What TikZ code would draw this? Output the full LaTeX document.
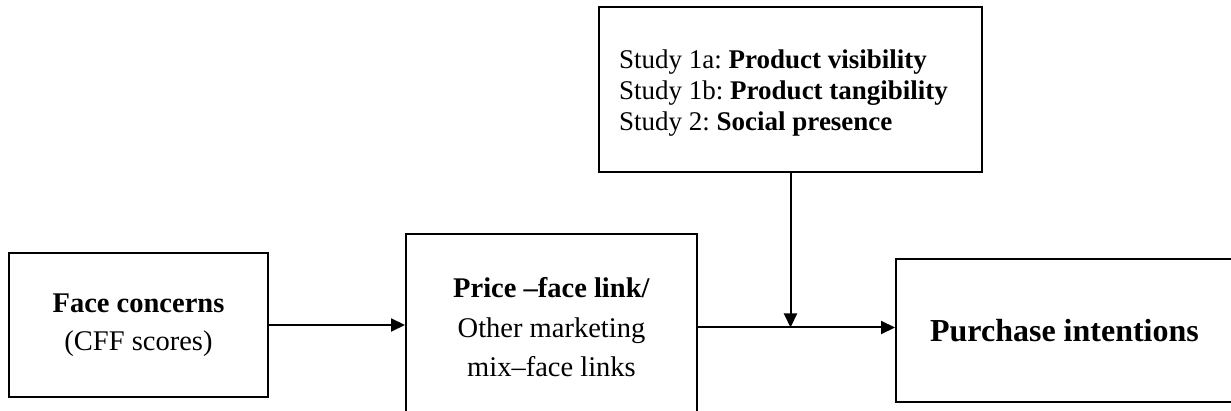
\documentclass[tikz,border=0pt]{standalone}
\usepackage{fontspec}
\setmainfont{Liberation Serif}
\usetikzlibrary{arrows.meta}
\frenchspacing
\begin{document}
\begin{tikzpicture}[x=1pt,y=-1pt,
  box/.style={draw, line width=2pt, align=center, inner sep=0pt},
  link/.style={line width=2pt, -{Triangle[length=14pt,width=13pt]}}]
\useasboundingbox (0,0) rectangle (1231,411);

% variable boxes
\node[box, minimum width=259pt, minimum height=144pt,
      font=\fontsize{28.5}{38}\selectfont] (face) at (138.5,325)
  {\textbf{Face concerns}\\(CFF scores)};
\node[box, minimum width=291pt, minimum height=187pt,
      font=\fontsize{28.5}{39.5}\selectfont] (price) at (551.5,327.5)
  {\textbf{Price --face link/}\\Other marketing\\mix--face links};
\node[box, minimum width=337pt, minimum height=143pt,
      font=\fontsize{32}{36}\selectfont\bfseries] (purchase) at (1064.5,330.5)
  {Purchase intentions};

% moderator box and its list of studies
\node[box, minimum width=383pt, minimum height=165pt] (mod) at (790.5,89.5) {};
\node[anchor=west, align=left, inner sep=0pt,
      font=\fontsize{27}{31}\selectfont] (modtext) at (619,93)
  {Study 1a: \textbf{Product visibility}\\
   Study 1b: \textbf{Product tangibility}\\
   Study 2: \textbf{Social presence}};

% connectors
\coordinate (j) at (mod.south |- price.east);
\draw[link] (face.east) -- (face.east -| price.west);
\draw[link] (price.east) -- (price.east -| purchase.west);
\draw[link] (mod.south) -- (j);
\end{tikzpicture}
\end{document}
